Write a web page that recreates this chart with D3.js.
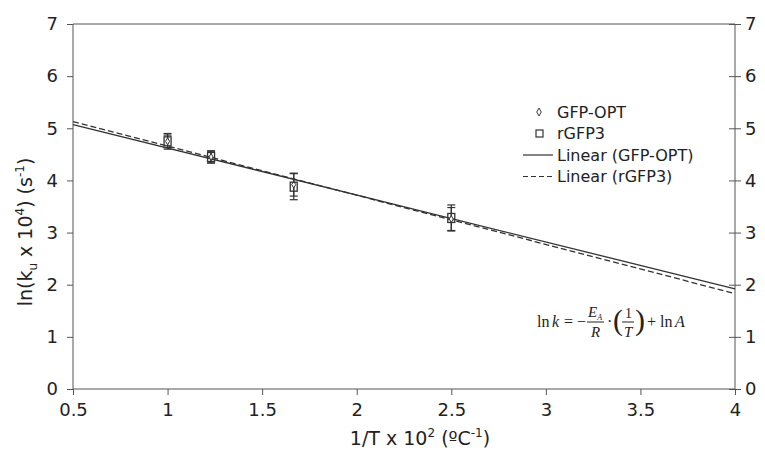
<!DOCTYPE html>
<html>
<head>
<meta charset="utf-8">
<script src="https://cdn.jsdelivr.net/npm/d3@7"></script>
<style>
body { margin: 0; background: #fff; }
svg text { font-family: "DejaVu Sans", Verdana, sans-serif; fill: #222; }
.eq text { font-family: "Liberation Serif", "Times New Roman", serif; }
</style>
</head>
<body>
<div class="chart"></div>
<script>
// data
var xVals = [1.0, 1.23, 1.667, 2.5];
var gfpOpt = [4.75, 4.45, 3.92, 3.26];
var gfpOptErr = [0.12, 0.1, 0.22, 0.22];
var rgfp3 = [4.75, 4.45, 3.88, 3.28];
var rgfp3Err = [0.15, 0.12, 0.25, 0.25];
// trend lines, value at x = 0.5 and x = 4
var trendX = [0.5, 4];
var trendGfpOpt = [5.07, 1.92];
var trendRgfp3 = [5.13, 1.83];
var xTicks = [0.5, 1, 1.5, 2, 2.5, 3, 3.5, 4];
var yTicks = [0, 1, 2, 3, 4, 5, 6, 7];
var legendNames = ['GFP-OPT', 'rGFP3', 'Linear (GFP-OPT)', 'Linear (rGFP3)'];

const width = 765
const height = 458
const mLeft = 73, mRight = 735, mTop = 24, mBottom = 389

let svg = d3.select('.chart')
  .append('svg')
  .attr('width', width)
  .attr('height', height)

let x = d3.scaleLinear().domain([0.5, 4]).range([mLeft, mRight])
let y = d3.scaleLinear().domain([0, 7]).range([mBottom, mTop])

// frame top line
svg.append('line')
  .attr('x1', mLeft).attr('x2', mRight)
  .attr('y1', mTop).attr('y2', mTop)
  .attr('stroke', '#555')

// left axis
let yl = svg.append('g')
  .attr('transform', 'translate(' + mLeft + ',0)')
  .call(d3.axisLeft(y).tickValues(yTicks).tickSize(6).tickPadding(9).tickFormat(d3.format('d')))
// right axis, ticks cross the line
let yr = svg.append('g')
  .attr('transform', 'translate(' + mRight + ',0)')
  .call(d3.axisRight(y).tickValues(yTicks).tickSize(6).tickPadding(4).tickFormat(d3.format('d')))
yr.selectAll('.tick line').attr('x1', -6)
// bottom axis
let xa = svg.append('g')
  .attr('transform', 'translate(0,' + mBottom + ')')
  .call(d3.axisBottom(x).tickValues(xTicks).tickSize(6).tickPadding(8).tickFormat(d3.format('')))

svg.selectAll('.domain').attr('stroke', '#555')
svg.selectAll('.tick line').attr('stroke', '#555')
svg.selectAll('.tick text').style('font-size', '18px').attr('fill', '#222')
yr.selectAll('.domain').attr('d', 'M0,' + mTop + 'V' + mBottom)
yl.selectAll('.domain').attr('d', 'M0,' + mTop + 'V' + mBottom)
xa.selectAll('.domain').attr('d', 'M' + mLeft + ',0H' + mRight)

// trend lines
let line = d3.line().x(d => x(d[0])).y(d => y(d[1]))
svg.append('path')
  .attr('d', line(d3.zip(trendX, trendGfpOpt)))
  .attr('fill', 'none').attr('stroke', '#333').attr('stroke-width', 1.3)
svg.append('path')
  .attr('d', line(d3.zip(trendX, trendRgfp3)))
  .attr('fill', 'none').attr('stroke', '#333').attr('stroke-width', 1.3)
  .attr('stroke-dasharray', '6,3')

// error bars
function errorBars(vals, errs) {
  let g = svg.append('g').attr('stroke', '#333').attr('stroke-width', 1.2)
  xVals.forEach((xv, i) => {
    g.append('line').attr('x1', x(xv)).attr('x2', x(xv))
      .attr('y1', y(vals[i] - errs[i])).attr('y2', y(vals[i] + errs[i]))
    g.append('line').attr('x1', x(xv) - 4).attr('x2', x(xv) + 4)
      .attr('y1', y(vals[i] - errs[i])).attr('y2', y(vals[i] - errs[i]))
    g.append('line').attr('x1', x(xv) - 4).attr('x2', x(xv) + 4)
      .attr('y1', y(vals[i] + errs[i])).attr('y2', y(vals[i] + errs[i]))
  })
}
errorBars(gfpOpt, gfpOptErr)
errorBars(rgfp3, rgfp3Err)

// GFP-OPT diamonds (mostly hidden under the squares)
svg.selectAll('path.dia')
  .data(gfpOpt)
  .enter()
  .append('path')
  .attr('class', 'dia')
  .attr('d', d3.symbol().type(d3.symbolDiamond).size(14))
  .attr('transform', (d, i) => 'translate(' + x(xVals[i]) + ',' + y(d) + ')')
  .attr('fill', '#fff').attr('stroke', '#333').attr('stroke-width', 1)

// rGFP3 squares
svg.selectAll('rect.sq')
  .data(rgfp3)
  .enter()
  .append('rect')
  .attr('class', 'sq')
  .attr('x', (d, i) => x(xVals[i]) - 3.5)
  .attr('y', d => y(d) - 4.5)
  .attr('width', 7)
  .attr('height', 9)
  .attr('fill', 'none').attr('stroke', '#333').attr('stroke-width', 1.3)

// legend
let lg = svg.append('g').attr('transform', 'translate(523,112)')
legendNames.forEach((name, i) => {
  let yy = i * 21.5
  lg.append('text').attr('x', 34).attr('y', yy).attr('dy', '0.35em')
    .style('font-size', '16px').text(name)
  if (i == 0) {
    lg.append('path').attr('d', d3.symbol().type(d3.symbolDiamond).size(18))
      .attr('transform', 'translate(16,' + yy + ')')
      .attr('fill', '#fff').attr('stroke', '#333')
  } else if (i == 1) {
    lg.append('rect').attr('x', 13).attr('y', yy - 3.5).attr('width', 7).attr('height', 7)
      .attr('fill', 'none').attr('stroke', '#333').attr('stroke-width', 1.2)
  } else {
    lg.append('line').attr('x1', 0).attr('x2', 30).attr('y1', yy).attr('y2', yy)
      .attr('stroke', '#333').attr('stroke-width', 1.2)
      .attr('stroke-dasharray', i == 3 ? '5,3' : null)
  }
})

// equation
let eq = svg.append('g').attr('class', 'eq').attr('transform', 'translate(537,322)')
function eqText(tx, ty, size, str, italic) {
  return eq.append('text').attr('x', tx).attr('y', ty)
    .style('font-size', size + 'px')
    .style('font-style', italic ? 'italic' : 'normal')
    .html(str)
}
eqText(0, 5, 16, 'ln')
eqText(15, 5, 16, 'k', true)
eqText(27, 5, 16, '=')
eqText(40, 5, 16, '−')
eqText(51, -5, 15, 'E<tspan font-size="8" dy="3">A</tspan>', true)
eq.append('line').attr('x1', 50).attr('x2', 67).attr('y1', 0).attr('y2', 0).attr('stroke', '#222')
eqText(54, 15, 15, 'R', true)
eqText(70, 5, 16, '·')
eqText(76, 8, 30, '(')
eqText(88, -4, 14, '1')
eq.append('line').attr('x1', 85).attr('x2', 97).attr('y1', 0).attr('y2', 0).attr('stroke', '#222')
eqText(87, 15, 15, 'T', true)
eqText(98, 8, 30, ')')
eqText(110, 5, 16, '+')
eqText(123, 5, 16, 'ln')
eqText(138, 5, 16, 'A', true)

// axis titles
svg.append('text')
  .attr('x', 420).attr('y', 445)
  .attr('text-anchor', 'middle')
  .style('font-size', '19px')
  .html('1/T x 10<tspan font-size="12" dy="-8">2</tspan><tspan dy="8"> (ºC</tspan><tspan font-size="12" dy="-8">-1</tspan><tspan dy="8">)</tspan>')

svg.append('text')
  .attr('transform', 'translate(32,232) rotate(-90)')
  .attr('text-anchor', 'middle')
  .style('font-size', '19px')
  .html('ln(k<tspan font-size="12" dy="5">u</tspan><tspan dy="-5"> x 10</tspan><tspan font-size="12" dy="-8">4</tspan><tspan dy="8">) (s</tspan><tspan font-size="12" dy="-8">-1</tspan><tspan dy="8">)</tspan>')
</script>
</body>
</html>
